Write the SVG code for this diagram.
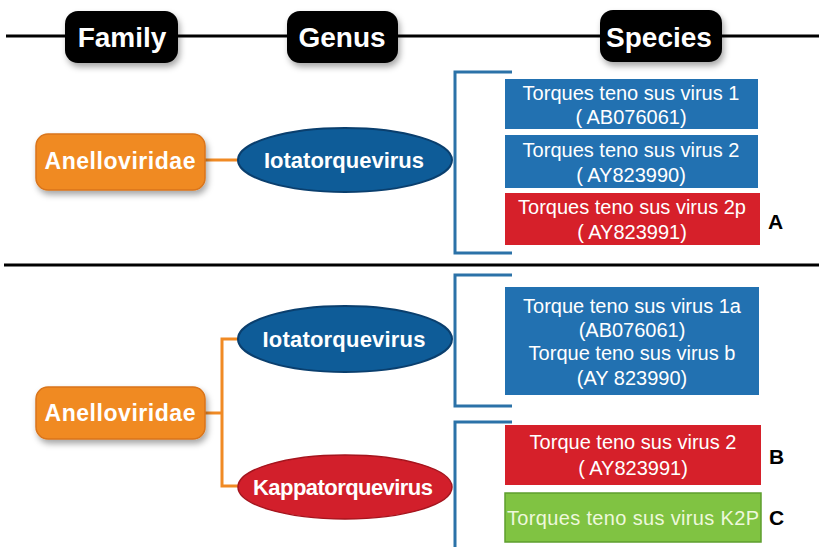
<svg xmlns="http://www.w3.org/2000/svg" width="819" height="547" viewBox="0 0 819 547">
<defs>
<style>
.hdr{fill:#000;}
.hdrt{fill:#fff;font-family:"Liberation Sans",Arial,sans-serif;font-weight:bold;font-size:28px;text-anchor:middle;}
.fam{fill:#f08a24;stroke:#d9741a;stroke-width:1.5;}
.famt{fill:#fff;font-family:"Liberation Sans",Arial,sans-serif;font-weight:bold;font-size:23px;text-anchor:middle;}
.gblue{fill:#0e5c98;stroke:#0a3f6e;stroke-width:2;}
.gred{fill:#d21f2b;stroke:#a5141d;stroke-width:1.5;}
.gt{fill:#fff;font-family:"Liberation Sans",Arial,sans-serif;font-weight:bold;font-size:22px;text-anchor:middle;}
.sblue{fill:#2271b1;}
.sred{fill:#d6202a;}
.sgreen{fill:#80c342;stroke:#5e9e2e;stroke-width:1.5;}
.st{fill:#fff;font-family:"Liberation Sans",Arial,sans-serif;font-size:20px;text-anchor:middle;}
.stg{fill:#eef8dc;font-family:"Liberation Sans",Arial,sans-serif;font-size:20px;text-anchor:middle;}
.lbl{fill:#000;font-family:"Liberation Sans",Arial,sans-serif;font-weight:bold;font-size:21px;}
.br{fill:none;stroke:#2b72a8;stroke-width:3;}
.oc{fill:none;stroke:#f08a24;stroke-width:3;}
.sep{stroke:#000;stroke-width:3;}
</style>
<filter id="sh" x="-20%" y="-20%" width="140%" height="150%">
<feDropShadow dx="2" dy="4" stdDeviation="3" flood-color="#000" flood-opacity="0.35"/>
</filter>
</defs>

<g id="separators">
<line class="sep" x1="6" y1="36" x2="819" y2="36"/>
<line class="sep" x1="4" y1="265" x2="819" y2="265"/>
</g>

<g id="header-family">
<rect class="hdr" x="65" y="11" width="113" height="52" rx="13" filter="url(#sh)"/>
<text class="hdrt" x="122" y="47">Family</text>
</g>
<g id="header-genus">
<rect class="hdr" x="287" y="11" width="111" height="52" rx="13" filter="url(#sh)"/>
<text class="hdrt" x="342" y="47">Genus</text>
</g>
<g id="header-species">
<rect class="hdr" x="600" y="10" width="122" height="52" rx="13" filter="url(#sh)"/>
<text class="hdrt" x="659" y="47">Species</text>
</g>

<g id="connectors">
<line class="oc" x1="205" y1="160" x2="238" y2="160"/>
<polyline class="oc" points="238,339 222,339 222,486 238,486"/>
<line class="oc" x1="205" y1="413" x2="222" y2="413"/>
<polyline class="br" points="512,72 455,72 455,253 512,253"/>
<polyline class="br" points="512,275 455,275 455,406 512,406"/>
<polyline class="br" points="512,422 455,422 455,547"/>
</g>

<g id="family-top">
<rect class="fam" x="36" y="134" width="169" height="56" rx="12" filter="url(#sh)"/>
<text class="famt" x="120" y="169" textLength="151" lengthAdjust="spacing">Anelloviridae</text>
</g>
<g id="genus-top">
<ellipse class="gblue" cx="345" cy="160" rx="107" ry="32"/>
<text class="gt" x="344" y="168" textLength="160" lengthAdjust="spacing">Iotatorquevirus</text>
</g>

<g id="species-1">
<rect class="sblue" x="505" y="79" width="253" height="50"/>
<text class="st" x="631" y="100">Torques teno sus virus 1</text>
<text class="st" x="631" y="124">( AB076061)</text>
</g>
<g id="species-2">
<rect class="sblue" x="505" y="135" width="253" height="53"/>
<text class="st" x="631" y="157">Torques teno sus virus 2</text>
<text class="st" x="631" y="182">( AY823990)</text>
</g>
<g id="species-2p">
<rect class="sred" x="505" y="193" width="255" height="52"/>
<text class="st" x="632" y="214">Torques teno sus virus 2p</text>
<text class="st" x="632" y="239">( AY823991)</text>
<text class="lbl" x="768" y="229">A</text>
</g>

<g id="family-bottom">
<rect class="fam" x="36" y="387" width="169" height="52" rx="12" filter="url(#sh)"/>
<text class="famt" x="120" y="421" textLength="151" lengthAdjust="spacing">Anelloviridae</text>
</g>
<g id="genus-iota">
<ellipse class="gblue" cx="345" cy="339" rx="107" ry="33"/>
<text class="gt" x="344" y="347" textLength="163" lengthAdjust="spacing">Iotatorquevirus</text>
</g>
<g id="genus-kappa">
<ellipse class="gred" cx="345" cy="487" rx="107" ry="32"/>
<text class="gt" x="343" y="495" textLength="180" lengthAdjust="spacing">Kappatorquevirus</text>
</g>

<g id="species-1a-b">
<rect class="sblue" x="505" y="287" width="254" height="108"/>
<text class="st" x="632" y="313">Torque teno sus virus 1a</text>
<text class="st" x="632" y="337">(AB076061)</text>
<text class="st" x="632" y="360">Torque teno sus virus b</text>
<text class="st" x="632" y="385">(AY 823990)</text>
</g>
<g id="species-k2">
<rect class="sred" x="505" y="425" width="256" height="60"/>
<text class="st" x="633" y="449">Torque teno sus virus 2</text>
<text class="st" x="633" y="475">( AY823991)</text>
<text class="lbl" x="769" y="464">B</text>
</g>
<g id="species-k2p">
<rect class="sgreen" x="505" y="493" width="256" height="49"/>
<text class="stg" x="633" y="525" textLength="252" lengthAdjust="spacing">Torques teno sus virus K2P</text>
<text class="lbl" x="769" y="525">C</text>
</g>
</svg>
